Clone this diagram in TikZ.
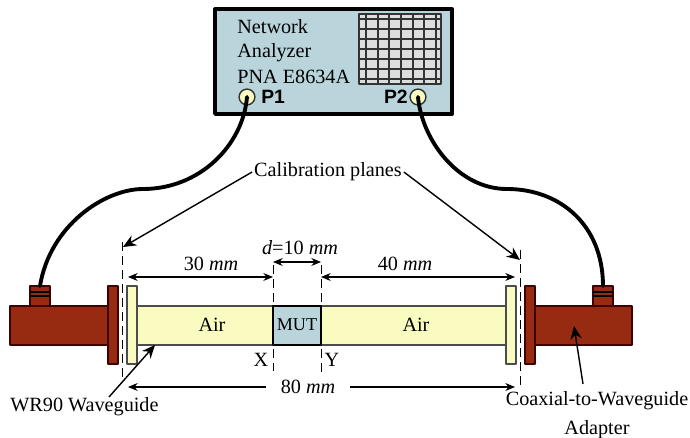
\documentclass[tikz,border=0pt]{standalone}
\usepackage{fontspec}
\setmainfont{Liberation Serif}
\newfontfamily\portfont{Liberation Sans}
\definecolor{panel}{HTML}{B9D5DB}
\definecolor{airfill}{HTML}{FAFBC0}
\definecolor{rust}{HTML}{962B12}
\definecolor{screen}{HTML}{DDDDDD}
\usetikzlibrary{arrows.meta}
\begin{document}
\begin{tikzpicture}[x=0.02cm, y=-0.02cm, font=\fontsize{11.5}{13}\selectfont, line join=round, >={Stealth[length=7.5pt,width=6.5pt]},
 metal/.style={draw=black!75!red, fill=rust, line width=0.6pt},
 guide/.style={draw=black!70, fill=airfill, line width=0.7pt},
 plane/.style={dashed, dash pattern=on 5pt off 3pt, line width=0.5pt},
 dimen/.style={<->, >={Stealth[length=5.5pt,width=4.5pt]}, line width=0.6pt},
 pointer/.style={->, line width=0.8pt},
 cable/.style={line width=2.2pt, line cap=round},
 port/.style={circle, draw=black!80, fill=airfill, line width=0.8pt, minimum size=9pt, inner sep=0pt}]
 \useasboundingbox (0,0) rectangle (690,438);
 % analyzer
 \draw[fill=panel, line width=2.2pt] (215,9) rectangle (452,114);
 \fill[screen] (359,14) rectangle (441,84);
 \draw[black!80, line width=0.7pt] (359,14) rectangle (441,84);
 \foreach \x in {366,378,389,401,413,424,436} \draw[black!80, line width=0.7pt] (\x,14)--(\x,84);
 \foreach \y in {19,29,39,49,59,69,79} \draw[black!80, line width=0.7pt] (359,\y)--(441,\y);
 \node[anchor=west, inner sep=0] (txa) at (237,27) {Network};
 \node[anchor=west, inner sep=0] (txb) at (237,53) {Analyzer};
 \node[anchor=west, inner sep=0] (txc) at (237,77) {PNA E8634A};
 \node[port] (pa) at (247,97) {};
 \node[port] (pb) at (418,97) {};
 \node[anchor=west, inner sep=0, font=\portfont\bfseries\fontsize{11}{13}\selectfont] (la) at (261,97) {P1};
 \node[anchor=east, inner sep=0, font=\portfont\bfseries\fontsize{11}{13}\selectfont] (lb) at (408,97) {P2};
 % adapters
 \foreach \a/\b/\c/\d/\e/\f in {10/108/118/30/50/L, 632/535/525/593/613/R}{
 \draw[metal] (\a,306) rectangle (\b,345);
 \draw[metal] (\b,286) rectangle (\c,364);
 \draw[metal] (\d,286) rectangle (\e,306);
 \draw[line width=0.6pt] (\d,292)--(\e,292) (\d,296)--(\e,296);
 \coordinate (plug\f) at ({(\d+\e)/2},286);
 }
 % waveguide
 \draw[guide] (137,306) rectangle (506,345);
 \draw[guide] (127,286) rectangle (137,364);
 \draw[guide] (506,286) rectangle (516,364);
 \draw[fill=panel, line width=0.7pt] (273,306) rectangle (321,345);
 \node (aira) at (212,325) {Air};
 \node (airb) at (416,325) {Air};
 \node[font=\fontsize{10.3}{12}\selectfont] (mut) at (297,325) {MUT};
 % cables
 \coordinate (bendL) at (143,189);
 \coordinate (bendR) at (507,189);
 \draw[cable] (pa.center) .. controls (243,145) and (200,189) .. (bendL) .. controls (105,189) and (50,225) .. (plugL);
 \draw[cable] (pb.center) .. controls (422,140) and (458,189) .. (bendR) .. controls (560,189) and (603,225) .. (plugR);
 % planes
 \foreach \n/\x/\t/\b in {A/122/242/379, B/520/250/388, X/273/265/371, Y/321/265/372}{
 \coordinate (top\n) at (\x,\t);
 \coordinate (bot\n) at (\x,\b);
 \draw[plane] (top\n)--(bot\n);
 }
 % dimensions
 \node (thirty) at (211,264) {30 \textit{mm}};
 \node (forty) at (405,264) {40 \textit{mm}};
 \node (dlen) at (300,248) {\textit{d}=10 \textit{mm}};
 \node[inner xsep=8pt, inner ysep=1pt] (eighty) at (308,387) {80 \textit{mm}};
 \node (nx) at (261,360) {X};
 \node (ny) at (332,360) {Y};
 \coordinate (da) at (128,277); \coordinate (db) at (273,277);
 \coordinate (dc) at (321,277); \coordinate (dd) at (515,277);
 \coordinate (de) at (273,262); \coordinate (df) at (321,262);
 \coordinate (dg) at (128,387); \coordinate (dh) at (515,387);
 \draw[dimen] (da)--(db);
 \draw[dimen] (dc)--(dd);
 \draw[dimen] (de)--(df);
 \draw[dimen, <-] (dg)--(eighty);
 \draw[dimen, <-] (dh)--(eighty);
 % labels
 \node[inner xsep=1pt] (calib) at (328,172) {Calibration planes};
 \node[anchor=west, inner sep=0] (wrn) at (10,407) {WR90 Waveguide};
 \node[align=center, inner sep=0] (coax) at (597,415) {Coaxial-to-Waveguide\\[3.5pt]Adapter};
 \coordinate (tipa) at (123,247); \coordinate (tipb) at (520,260);
 \coordinate (tipc) at (155,345); \coordinate (tipd) at (574,326);
 \coordinate (tailc) at (109,397); \coordinate (taild) at (583,384);
 \draw[pointer] (calib.west)--(tipa);
 \draw[pointer] (calib.east)--(tipb);
 \draw[pointer] (tailc)--(tipc);
 \draw[pointer] (taild)--(tipd);
\end{tikzpicture}
\end{document}
